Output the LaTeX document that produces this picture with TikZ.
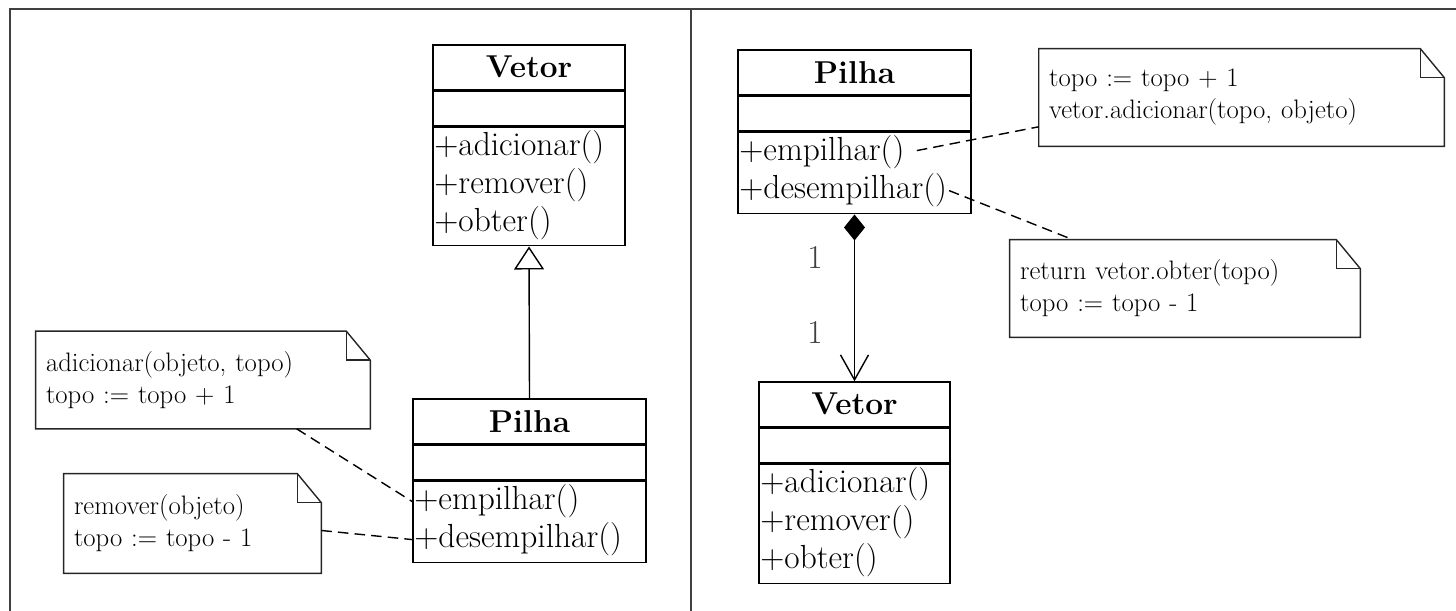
\documentclass[tikz,border=0pt]{standalone}
\usepackage{tikz}
\usetikzlibrary{positioning,calc,arrows.meta}

\newcommand{\fmetodo}{\fontsize{19}{22}\selectfont}
\newcommand{\fnota}{\fontsize{15.2}{18.2}\selectfont}
\newcommand{\desenhanota}[1]{%
  \draw[contorno] (#1.north west) -- ($(#1.north east)+(-24,0)$) -- ($(#1.north east)+(0,29)$)
     -- (#1.south east) -- (#1.south west) -- cycle;
  \draw[contorno] ($(#1.north east)+(-24,0)$) |- ($(#1.north east)+(0,29)$);}

\tikzset{
  contorno/.style={black!85, line width=.8pt},
  titulo/.style={draw, line width=.8pt, minimum height=.89cm, inner sep=0pt, font=\bfseries\fontsize{18}{22}\selectfont},
  atrib/.style={draw, line width=.8pt, minimum height=.69cm, inner sep=0pt},
  metodos/.style={draw, line width=.8pt, inner sep=0pt},
  metodo/.style={anchor=west, inner xsep=1pt, inner ysep=0pt, font=\fmetodo},
  nota/.style={minimum height=1.94cm, inner xsep=.2cm, align=left, font=\fnota},
  ligacao/.style={line width=.8pt, dash pattern=on 6pt off 3.5pt},
  mult/.style={black!75, font=\fontsize{19}{22}\selectfont}
}

\begin{document}
\begin{tikzpicture}[x=.02cm, y=-.02cm]
  \useasboundingbox (0,0) rectangle (1456,611);
  %Moldura
  \draw[black!75, line width=1.2pt] (10,611) -- (10,9) -- (1456,9);
  \draw[black!75, line width=1.2pt] (691,9) -- (691,611);

  %Heranca: Vetor
  \node[titulo, minimum width=3.84cm] (veT) at (529,67.25) {Vetor};
  \node[atrib, minimum width=3.84cm, below=0pt of veT] (veA) {};
  \node[metodos, minimum width=3.84cm, minimum height=2.38cm, below=0pt of veA] (veM) {};
  \foreach \m [count=\i] in {adicionar,remover,obter}
    \node[metodo] (ve\i) at ($(veM.north west)+(0,38*\i-16.5)$) {+\m()};

  %Heranca: Pilha
  \node[titulo, minimum width=4.66cm] (peT) at (529.5,421.25) {Pilha};
  \node[atrib, minimum width=4.66cm, below=0pt of peT] (peA) {};
  \node[metodos, minimum width=4.66cm, minimum height=1.64cm, below=0pt of peA] (peM) {};
  \foreach \m [count=\i] in {empilhar,desempilhar}
    \node[metodo] (pe\i) at ($(peM.north west)+(0,38*\i-16.5)$) {+\m()};

  \draw[line width=.8pt, -{Triangle[open, length=.46cm, width=.6cm]}] (peT.north) -- (veM.south);

  %Notas esquerda
  \node[nota, text width=6.28cm] (n1) at (203,380) {adicionar(objeto, topo)\\topo := topo + 1};
  \desenhanota{n1}
  \node[nota, text width=4.74cm, minimum height=1.98cm] (n2) at (192.5,523.5) {remover(objeto)\\topo := topo - 1};
  \desenhanota{n2}
  \draw[ligacao] ($(n1.south west)!.78!(n1.south east)$) -- (pe1.west);
  \draw[ligacao] ($(n2.south east)!.43!(n2.north east)$) -- (pe2.west);

  %Composicao: Pilha
  \node[titulo, minimum width=4.66cm] (pdT) at (854.5,72.25) {Pilha};
  \node[atrib, minimum width=4.66cm, below=0pt of pdT] (pdA) {};
  \node[metodos, minimum width=4.66cm, minimum height=1.64cm, below=0pt of pdA] (pdM) {};
  \foreach \m [count=\i] in {empilhar,desempilhar}
    \node[metodo] (pd\i) at ($(pdM.north west)+(0,38*\i-16.5)$) {+\m()};

  %Composicao: Vetor
  \node[titulo, minimum width=3.82cm] (vdT) at (854.5,404.25) {Vetor};
  \node[atrib, minimum width=3.82cm, below=0pt of vdT] (vdA) {};
  \node[metodos, minimum width=3.82cm, minimum height=2.4cm, below=0pt of vdA] (vdM) {};
  \foreach \m [count=\i] in {adicionar,remover,obter}
    \node[metodo] (vd\i) at ($(vdM.north west)+(0,38*\i-16.5)$) {+\m()};

  \draw[line width=.8pt, {Diamond[length=.52cm, width=.42cm]}-{Straight Barb[length=.5cm, width=.56cm]}] (pdM.south) -- (vdT.north);
  \node[mult] (m1) at (815,257) {1};
  \node[mult] (m2) at (815,332) {1};

  %Notas direita
  \node[nota, text width=7.7cm] (n3) at (1241.5,97.5) {topo := topo + 1\\vetor.adicionar(topo, objeto)};
  \desenhanota{n3}
  \node[nota, text width=6.6cm] (n4) at (1185,288.5) {return vetor.obter(topo)\\topo := topo - 1};
  \desenhanota{n4}
  \draw[ligacao, shorten <=6pt] (pd1.east) -- ($(n3.south west)!.2!(n3.north west)$);
  \draw[ligacao] (pd2.east) -- ($(n4.north west)!.18!(n4.north east)$);
\end{tikzpicture}
\end{document}
